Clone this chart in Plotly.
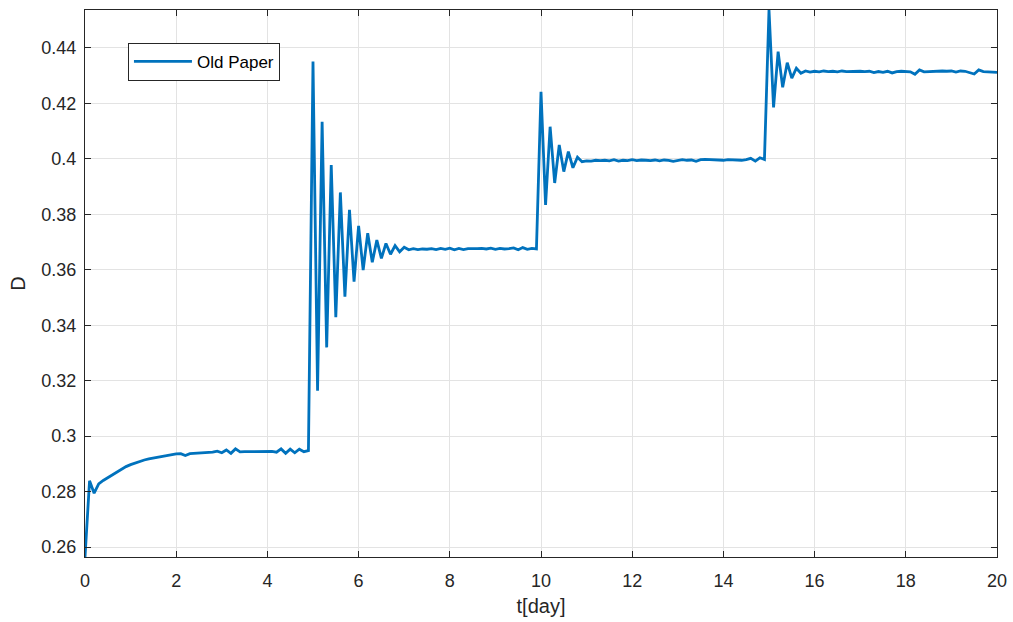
import numpy as np
import plotly.graph_objects as go

# time grid (days), step 0.1
t = [round(i * 0.1, 1) for i in range(201)]

D_0_5 = [0.2564, 0.2839, 0.2794, 0.2828, 0.2840, 0.2850, 0.2860, 0.2872, 0.2882, 0.2890,
         0.2897, 0.2903, 0.2908, 0.2914, 0.2918, 0.2921, 0.2924, 0.2927, 0.2930, 0.2934,
         0.2936, 0.2937, 0.2930, 0.2937, 0.2938, 0.2941, 0.2942, 0.2942, 0.2942, 0.2946,
         0.2940, 0.2950, 0.2938, 0.2954, 0.2943, 0.2944, 0.2944, 0.2945, 0.2944, 0.2946,
         0.2944, 0.2945, 0.2942, 0.2954, 0.2938, 0.2953, 0.2940, 0.2953, 0.2944, 0.2948]
D_5_10 = [0.4351, 0.3164, 0.4134, 0.3320, 0.3978, 0.3429, 0.3879, 0.3503, 0.3816, 0.3557,
          0.3758, 0.3599, 0.3732, 0.3627, 0.3707, 0.3641, 0.3695, 0.3656, 0.3687, 0.3665,
          0.3681, 0.3672, 0.3676, 0.3673, 0.3675, 0.3674, 0.3676, 0.3673, 0.3677, 0.3674,
          0.3678, 0.3672, 0.3677, 0.3673, 0.3676, 0.3675, 0.3676, 0.3677, 0.3675, 0.3678,
          0.3674, 0.3677, 0.3675, 0.3676, 0.3679, 0.3672, 0.3680, 0.3674, 0.3677, 0.3675]
D_10_15 = [0.4242, 0.3834, 0.4116, 0.3913, 0.4050, 0.3954, 0.4026, 0.3968, 0.4006, 0.3990,
           0.3993, 0.3992, 0.3995, 0.3994, 0.3995, 0.3993, 0.3997, 0.3992, 0.3995, 0.3994,
           0.3997, 0.3994, 0.3996, 0.3995, 0.3994, 0.3996, 0.3993, 0.3996, 0.3995, 0.3991,
           0.3994, 0.3997, 0.3995, 0.3996, 0.3991, 0.3997, 0.3998, 0.3997, 0.3996, 0.3997,
           0.3995, 0.3997, 0.3996, 0.3997, 0.3995, 0.3997, 0.4002, 0.3992, 0.4004, 0.3998]
D_15_20 = [0.4537, 0.4186, 0.4387, 0.4258, 0.4347, 0.4291, 0.4327, 0.4309, 0.4317, 0.4313,
           0.4316, 0.4314, 0.4317, 0.4315, 0.4316, 0.4314, 0.4317, 0.4315, 0.4316, 0.4315,
           0.4316, 0.4315, 0.4316, 0.4311, 0.4315, 0.4312, 0.4316, 0.4310, 0.4315, 0.4316,
           0.4315, 0.4314, 0.4305, 0.4321, 0.4314, 0.4315, 0.4316, 0.4316, 0.4317, 0.4316,
           0.4317, 0.4313, 0.4317, 0.4316, 0.4312, 0.4306, 0.4321, 0.4315, 0.4314, 0.4313,
           0.4312]
D = D_0_5 + D_5_10 + D_10_15 + D_15_20

x_ticks = [0, 2, 4, 6, 8, 10, 12, 14, 16, 18, 20]
y_ticks = [0.26, 0.28, 0.30, 0.32, 0.34, 0.36, 0.38, 0.40, 0.42, 0.44]
y_tick_text = ["0.26", "0.28", "0.3", "0.32", "0.34", "0.36", "0.38", "0.4", "0.42", "0.44"]

FONT = "Liberation Sans, Arial, sans-serif"
AX = "#262626"

fig = go.Figure()
fig.add_trace(go.Scatter(x=t, y=D, mode="lines", name="Old Paper",
                         line=dict(color="#0072BD", width=2.8)))

axis_common = dict(
    showline=True, linecolor=AX, linewidth=1, mirror="ticks",
    ticks="inside", ticklen=6, tickcolor=AX, tickwidth=1,
    showgrid=True, gridcolor="#e3e3e3", gridwidth=1, zeroline=False,
    tickfont=dict(family=FONT, size=18, color=AX), automargin=False,
)
fig.update_xaxes(range=[0, 20], tickvals=x_ticks, ticklabelstandoff=7,
                 title=dict(text="t[day]", font=dict(family=FONT, size=20, color=AX), standoff=9),
                 **axis_common)
fig.update_yaxes(range=[min(D), max(D)], tickvals=y_ticks, ticktext=y_tick_text,
                 ticklabelstandoff=4,
                 title=dict(text="D", font=dict(family=FONT, size=20, color=AX), standoff=10),
                 **axis_common)

fig.update_layout(
    width=1013, height=622,
    margin=dict(l=85, r=16, t=10, b=65),
    plot_bgcolor="white", paper_bgcolor="white",
    showlegend=True,
    legend=dict(x=0.0471, y=0.94, xanchor="left", yanchor="top",
                bgcolor="white", bordercolor=AX, borderwidth=1,
                font=dict(family=FONT, size=17, color="black"),
                itemwidth=58, tracegroupgap=0),
)

fig.write_html("out.html")
